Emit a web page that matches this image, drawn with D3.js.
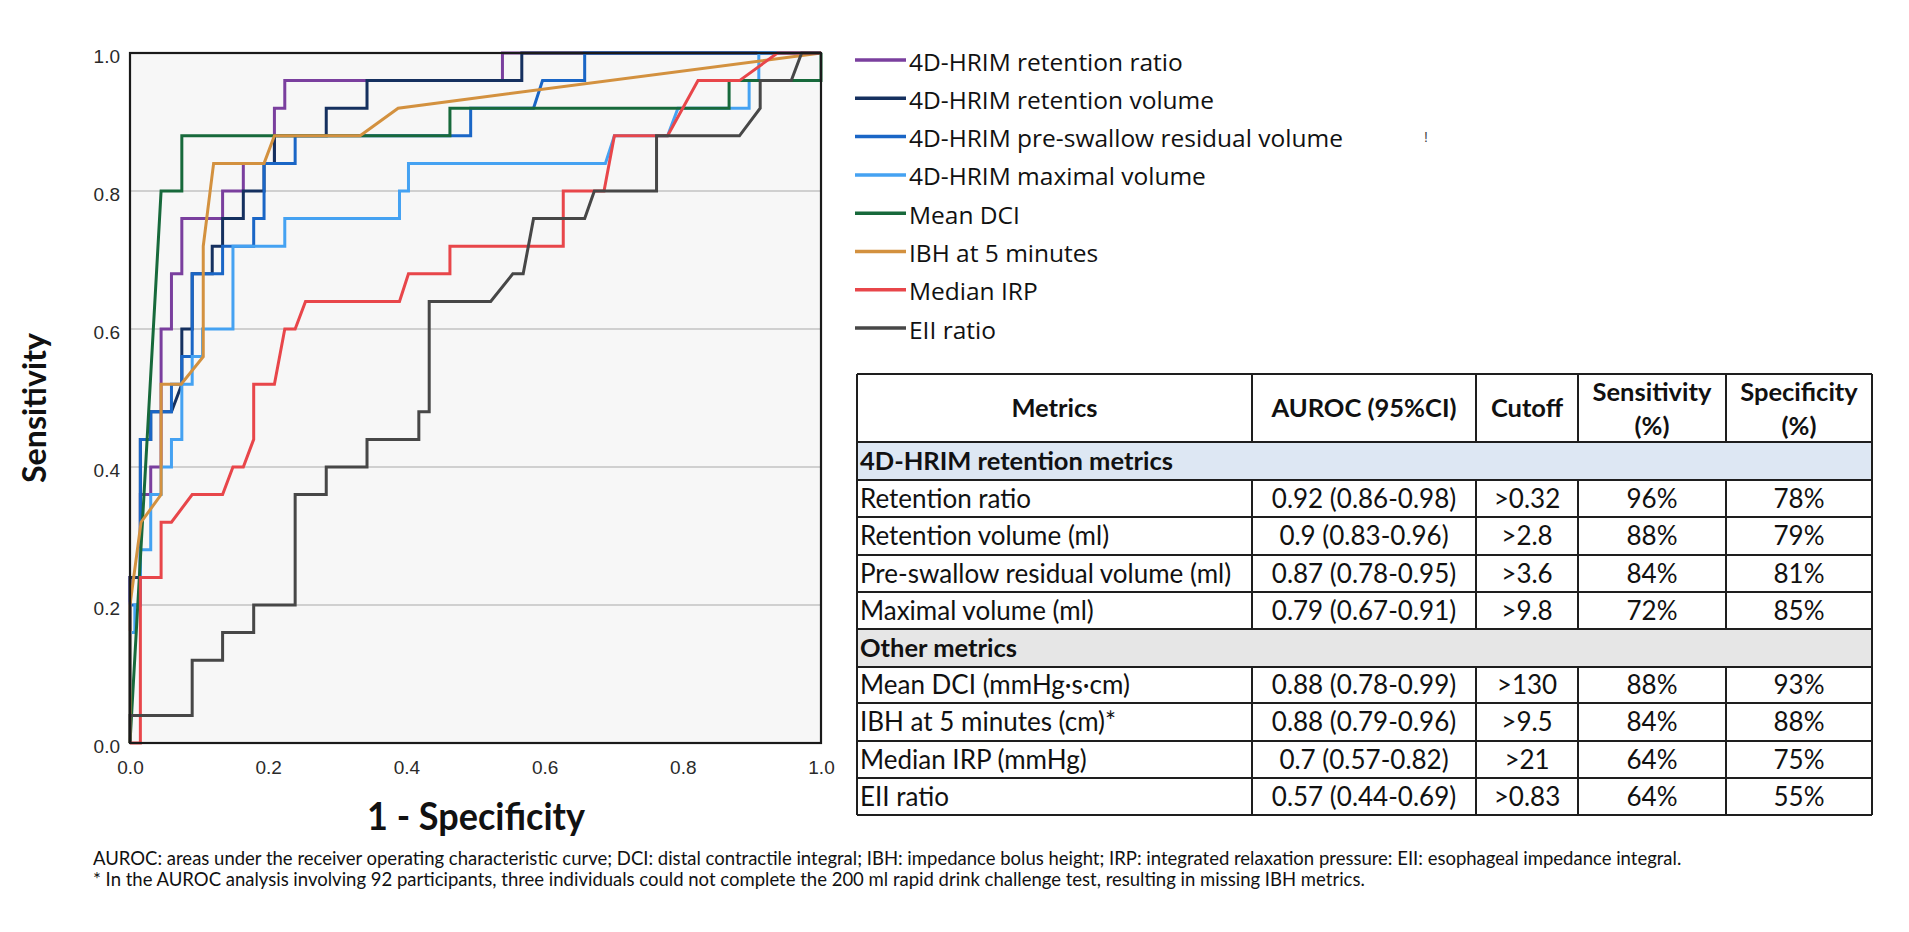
<!DOCTYPE html>
<html>
<head>
<meta charset="utf-8">
<script src="https://cdn.jsdelivr.net/npm/d3@7"></script>
<style>
  body { margin: 0; background: #fff; }
  svg { display: block; }
</style>
</head>
<body>
<div id="chart"></div>
<script>
// ROC curves: [1 - specificity, sensitivity]
var seriesNames = ["4D-HRIM retention ratio", "4D-HRIM retention volume", "4D-HRIM pre-swallow residual volume",
  "4D-HRIM maximal volume", "Mean DCI", "IBH at 5 minutes", "Median IRP", "EII ratio"]
var seriesColors = ["#7a3f9e", "#15305f", "#1a66c6", "#45a2f2", "#17693b", "#d3913f", "#e8464a", "#474747"]

var retentionRatio = [[0,0],[0,0.24],[0.015,0.24],[0.015,0.36],[0.03,0.36],[0.03,0.40],[0.045,0.40],[0.045,0.60],
  [0.06,0.60],[0.06,0.68],[0.075,0.68],[0.075,0.76],[0.134,0.76],[0.134,0.80],[0.164,0.80],[0.164,0.84],
  [0.209,0.84],[0.209,0.92],[0.224,0.92],[0.224,0.96],[0.539,0.96],[0.539,1],[1,1]]
var retentionVolume = [[0,0],[0,0.24],[0.015,0.24],[0.015,0.44],[0.03,0.44],[0.03,0.48],[0.06,0.48],[0.075,0.52],
  [0.075,0.60],[0.09,0.60],[0.09,0.68],[0.119,0.68],[0.119,0.72],[0.134,0.72],[0.134,0.76],[0.164,0.76],
  [0.164,0.80],[0.194,0.80],[0.194,0.84],[0.209,0.84],[0.209,0.88],[0.284,0.88],[0.284,0.92],[0.343,0.92],
  [0.343,0.96],[0.567,0.96],[0.567,1],[1,1]]
var preSwallow = [[0,0],[0,0.2],[0.015,0.2],[0.015,0.44],[0.03,0.44],[0.03,0.48],[0.06,0.48],[0.06,0.52],
  [0.075,0.52],[0.075,0.56],[0.09,0.56],[0.09,0.68],[0.134,0.68],[0.134,0.72],[0.179,0.72],[0.179,0.76],
  [0.194,0.76],[0.194,0.84],[0.239,0.84],[0.239,0.88],[0.493,0.88],[0.493,0.92],[0.584,0.92],[0.597,0.96],
  [0.658,0.96],[0.658,1],[1,1]]
var maximalVolume = [[0,0],[0,0.16],[0.007,0.16],[0.007,0.2],[0.015,0.2],[0.015,0.28],[0.03,0.28],[0.03,0.36],
  [0.045,0.36],[0.045,0.40],[0.06,0.40],[0.06,0.44],[0.075,0.44],[0.075,0.52],[0.09,0.52],[0.09,0.56],
  [0.105,0.56],[0.105,0.60],[0.149,0.60],[0.149,0.72],[0.224,0.72],[0.224,0.76],[0.39,0.76],[0.39,0.80],
  [0.403,0.80],[0.403,0.84],[0.688,0.84],[0.701,0.88],[0.778,0.88],[0.793,0.92],[0.896,0.92],[0.896,0.96],
  [0.91,0.96],[0.91,1],[1,1]]
var meanDCI = [[0,0],[0.045,0.80],[0.075,0.80],[0.075,0.88],[0.463,0.88],[0.463,0.92],[0.867,0.92],
  [0.867,0.96],[1,0.96],[1,1]]
var ibh5 = [[0,0],[0,0.2],[0.016,0.32],[0.045,0.36],[0.045,0.52],[0.074,0.52],[0.106,0.56],[0.106,0.72],
  [0.121,0.84],[0.194,0.84],[0.209,0.88],[0.333,0.88],[0.388,0.92],[1,1]]
var medianIRP = [[0,0],[0.015,0],[0.015,0.24],[0.045,0.24],[0.045,0.32],[0.06,0.32],[0.09,0.36],[0.134,0.36],
  [0.149,0.40],[0.164,0.40],[0.179,0.44],[0.179,0.52],[0.209,0.52],[0.224,0.60],[0.239,0.60],[0.254,0.64],
  [0.39,0.64],[0.403,0.68],[0.463,0.68],[0.463,0.72],[0.627,0.72],[0.627,0.80],[0.686,0.80],[0.701,0.88],
  [0.778,0.88],[0.822,0.96],[0.882,0.96],[0.937,1],[1,1]]
var eiiRatio = [[0,0],[0,0.04],[0.09,0.04],[0.09,0.12],[0.134,0.12],[0.134,0.16],[0.179,0.16],[0.179,0.20],
  [0.239,0.20],[0.239,0.36],[0.284,0.36],[0.284,0.40],[0.343,0.40],[0.343,0.44],[0.418,0.44],[0.418,0.48],
  [0.433,0.48],[0.433,0.64],[0.522,0.64],[0.554,0.68],[0.569,0.68],[0.584,0.76],[0.658,0.76],[0.672,0.80],
  [0.762,0.80],[0.762,0.88],[0.882,0.88],[0.912,0.92],[0.912,0.96],[0.957,0.96],[0.972,1],[1,1]]

var curves = [retentionRatio, retentionVolume, preSwallow, maximalVolume, meanDCI, ibh5, medianIRP, eiiRatio]
var axisTicks = [0, 0.2, 0.4, 0.6, 0.8, 1.0]
var gridTicks = [0.2, 0.4, 0.6, 0.8]

// table
var tableHeader = ["Metrics", "AUROC (95%CI)", "Cutoff", "Sensitivity\n(%)", "Specificity\n(%)"]
var groupRetention = "4D-HRIM retention metrics"
var groupOther = "Other metrics"
var metricNames = ["Retention ratio", "Retention volume (ml)", "Pre-swallow residual volume (ml)", "Maximal volume (ml)",
  "Mean DCI (mmHg\u00b7s\u00b7cm)", "IBH at 5 minutes (cm)*", "Median IRP (mmHg)", "EII ratio"]
var aurocs = ["0.92 (0.86-0.98)", "0.9 (0.83-0.96)", "0.87 (0.78-0.95)", "0.79 (0.67-0.91)",
  "0.88 (0.78-0.99)", "0.88 (0.79-0.96)", "0.7 (0.57-0.82)", "0.57 (0.44-0.69)"]
var cutoffs = [">0.32", ">2.8", ">3.6", ">9.8", ">130", ">9.5", ">21", ">0.83"]
var sensitivities = ["96%", "88%", "84%", "72%", "88%", "84%", "64%", "64%"]
var specificities = ["78%", "79%", "81%", "85%", "93%", "88%", "75%", "55%"]

var footnotes = ["AUROC: areas under the receiver operating characteristic curve; DCI: distal contractile integral; IBH: impedance bolus height; IRP: integrated relaxation pressure: EII: esophageal impedance integral.",
  "* In the AUROC analysis involving 92 participants, three individuals could not complete the 200 ml rapid drink challenge test, resulting in missing IBH metrics."]

var width = 1909
var height = 932

var svg = d3.select("#chart").append("svg")
  .attr("width", width)
  .attr("height", height)

var x = d3.scaleLinear().domain([0, 1]).range([130, 821])
var y = d3.scaleLinear().domain([0, 1]).range([743, 53])

// plot area
svg.append("rect")
  .attr("x", x(0)).attr("y", y(1))
  .attr("width", x(1) - x(0)).attr("height", y(0) - y(1))
  .attr("fill", "#f7f7f7")

svg.selectAll(".grid")
  .data(gridTicks)
  .enter().append("line")
  .attr("x1", x(0)).attr("x2", x(1))
  .attr("y1", function(d) { return y(d) }).attr("y2", function(d) { return y(d) })
  .attr("stroke", "#c3c3c3").attr("stroke-width", 1.6)

var line = d3.line()
  .x(function(d) { return x(d[0]) })
  .y(function(d) { return y(d[1]) })

svg.selectAll(".curve")
  .data(curves)
  .enter().append("path")
  .attr("d", line)
  .attr("fill", "none")
  .attr("stroke", function(d, i) { return seriesColors[i] })
  .attr("stroke-width", 3)
  .attr("stroke-linejoin", "miter")

svg.append("rect")
  .attr("x", x(0)).attr("y", y(1))
  .attr("width", x(1) - x(0)).attr("height", y(0) - y(1))
  .attr("fill", "none").attr("stroke", "#1a1a1a").attr("stroke-width", 2.2)

var yAxis = svg.append("g")
  .attr("transform", "translate(" + x(0) + ",0)")
  .call(d3.axisLeft(y).tickValues(axisTicks).tickFormat(d3.format(".1f")).tickSize(0).tickPadding(10))
var xAxis = svg.append("g")
  .attr("transform", "translate(0," + y(0) + ")")
  .call(d3.axisBottom(x).tickValues(axisTicks).tickFormat(d3.format(".1f")).tickSize(0).tickPadding(18))
svg.selectAll(".domain").remove()
yAxis.selectAll("text").attr("dy", "0.52em")
svg.selectAll(".tick text")
  .attr("font-family", "'Liberation Sans', Arial, sans-serif")
  .attr("font-size", 19)
  .attr("fill", "#2a2a2a")

// axis titles
svg.append("text")
  .attr("transform", "translate(46,408) rotate(-90)")
  .attr("text-anchor", "middle")
  .attr("font-family", "Lato, 'Open Sans', sans-serif")
  .attr("font-weight", "bold")
  .attr("font-size", 33)
  .attr("textLength", 150).attr("lengthAdjust", "spacingAndGlyphs")
  .attr("fill", "#111")
  .text("Sensitivity")

svg.append("text")
  .attr("x", 476).attr("y", 830)
  .attr("text-anchor", "middle")
  .attr("font-family", "Lato, 'Open Sans', sans-serif")
  .attr("font-weight", "bold")
  .attr("font-size", 38)
  .attr("textLength", 218).attr("lengthAdjust", "spacingAndGlyphs")
  .attr("fill", "#111")
  .text("1 - Specificity")

// legend
var legend = svg.selectAll(".legend")
  .data(seriesNames)
  .enter().append("g")
  .attr("transform", function(d, i) { return "translate(855," + (62 + i * 38.3) + ")" })
legend.append("line")
  .attr("x1", 0).attr("x2", 51).attr("y1", -2).attr("y2", -2)
  .attr("stroke", function(d, i) { return seriesColors[i] })
  .attr("stroke-width", 3.5)
legend.append("text")
  .attr("x", 54).attr("y", 8.5)
  .attr("font-family", "'Open Sans', sans-serif")
  .attr("font-size", 24.5)
  .attr("fill", "#111")
  .text(function(d) { return d })

svg.append("text")
  .attr("x", 1424).attr("y", 142)
  .attr("font-family", "'Liberation Sans', sans-serif")
  .attr("font-size", 14).attr("fill", "#444")
  .text("!")

// table
var colX = [857, 1252, 1476, 1578, 1726, 1872]
var rowY = [374, 442, 480, 517, 555, 592, 629, 667, 703, 741, 778, 815]
var tfont = "Lato, 'Open Sans', sans-serif"
var bodySize = 26
var boldSize = 25.5
var table = svg.append("g")

table.append("rect")
  .attr("x", colX[0]).attr("y", rowY[1])
  .attr("width", colX[5] - colX[0]).attr("height", rowY[2] - rowY[1])
  .attr("fill", "#dde7f3")
table.append("rect")
  .attr("x", colX[0]).attr("y", rowY[6])
  .attr("width", colX[5] - colX[0]).attr("height", rowY[7] - rowY[6])
  .attr("fill", "#e6e6e6")

table.selectAll(".hline")
  .data(rowY)
  .enter().append("line")
  .attr("x1", colX[0]).attr("x2", colX[5])
  .attr("y1", function(d) { return d }).attr("y2", function(d) { return d })
  .attr("stroke", "#1e1e1e").attr("stroke-width", 2)

// vertical lines, broken at the two group rows
var vSegments = []
colX.forEach(function(cx, ci) {
  var edge = ci == 0 || ci == colX.length - 1
  if (edge) {
    vSegments.push([cx, rowY[0], rowY[11]])
  } else {
    vSegments.push([cx, rowY[0], rowY[1]])
    vSegments.push([cx, rowY[2], rowY[6]])
    vSegments.push([cx, rowY[7], rowY[11]])
  }
})
table.selectAll(".vline")
  .data(vSegments)
  .enter().append("line")
  .attr("x1", function(d) { return d[0] }).attr("x2", function(d) { return d[0] })
  .attr("y1", function(d) { return d[1] }).attr("y2", function(d) { return d[2] })
  .attr("stroke", "#1e1e1e").attr("stroke-width", 2)

tableHeader.forEach(function(h, ci) {
  var cx = (colX[ci] + colX[ci + 1]) / 2
  var lines = h.split("\n")
  var t = table.append("text")
    .attr("x", cx)
    .attr("text-anchor", "middle")
    .attr("font-family", tfont).attr("font-weight", "bold")
    .attr("font-size", boldSize).attr("fill", "#111")
  if (lines.length == 1) {
    t.attr("y", 417).text(h)
  } else {
    t.append("tspan").attr("x", cx).attr("y", 401).text(lines[0])
    t.append("tspan").attr("x", cx).attr("y", 435).text(lines[1])
  }
})

table.append("text")
  .attr("x", 860).attr("y", (rowY[1] + rowY[2]) / 2 + 9)
  .attr("font-family", tfont).attr("font-weight", "bold")
  .attr("font-size", boldSize).attr("fill", "#111")
  .text(groupRetention)
table.append("text")
  .attr("x", 860).attr("y", (rowY[6] + rowY[7]) / 2 + 9)
  .attr("font-family", tfont).attr("font-weight", "bold")
  .attr("font-size", boldSize).attr("fill", "#111")
  .text(groupOther)

var bodyRows = [2, 3, 4, 5, 7, 8, 9, 10]
metricNames.forEach(function(m, i) {
  var r = bodyRows[i]
  var ty = (rowY[r] + rowY[r + 1]) / 2 + 9
  var cells = [m, aurocs[i], cutoffs[i], sensitivities[i], specificities[i]]
  cells.forEach(function(c, ci) {
    table.append("text")
      .attr("x", ci == 0 ? 860 : (colX[ci] + colX[ci + 1]) / 2)
      .attr("y", ty)
      .attr("text-anchor", ci == 0 ? "start" : "middle")
      .attr("font-family", tfont)
      .attr("font-size", bodySize).attr("fill", "#111")
      .text(c)
  })
})

// footnotes
svg.selectAll(".foot")
  .data(footnotes)
  .enter().append("text")
  .attr("x", 93)
  .attr("y", function(d, i) { return 865 + i * 21 })
  .attr("font-family", tfont)
  .attr("font-size", 18.5).attr("fill", "#111")
  .text(function(d) { return d })
</script>
</body>
</html>
